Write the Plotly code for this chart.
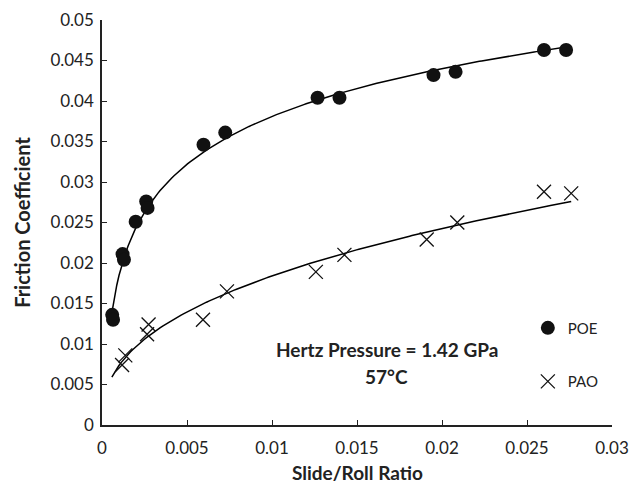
import numpy as np
import plotly.graph_objects as go

# POE data (Slide/Roll ratio, friction coefficient)
poe_x = [0.0006, 0.00065, 0.00121, 0.00129, 0.00198, 0.0026, 0.00268, 0.00597, 0.00725,
         0.01268, 0.01397, 0.0195, 0.0208, 0.0260, 0.0273]
poe_y = [0.0136, 0.0130, 0.0211, 0.0204, 0.0251, 0.0276, 0.0268, 0.0346, 0.0361,
         0.0404, 0.0404, 0.0432, 0.0436, 0.0463, 0.0463]

# PAO data
pao_x = [0.00118, 0.00137, 0.00265, 0.00274, 0.00594, 0.00735, 0.01258, 0.01426,
         0.0191, 0.0209, 0.0260, 0.0276]
pao_y = [0.0074, 0.0086, 0.0112, 0.0124, 0.0130, 0.0165, 0.0189, 0.0210,
         0.0229, 0.0250, 0.0288, 0.0286]

x_ticks = [0, 0.005, 0.01, 0.015, 0.02, 0.025, 0.03]
x_tick_labels = ["0", "0.005", "0.01", "0.015", "0.02", "0.025", "0.03"]
y_ticks = [0, 0.005, 0.01, 0.015, 0.02, 0.025, 0.03, 0.035, 0.04, 0.045, 0.05]
y_tick_labels = ["0", "0.005", "0.01", "0.015", "0.02", "0.025", "0.03", "0.035", "0.04", "0.045", "0.05"]

# Trendlines: logarithmic for POE, power for PAO (least-squares fits of the data)
px = np.array(poe_x); py = np.array(poe_y)
b_log, a_log = np.polyfit(np.log(px), py, 1)
poe_fx = np.linspace(px.min(), px.max(), 200)
poe_fy = a_log + b_log * np.log(poe_fx)

qx = np.array(pao_x); qy = np.array(pao_y)
b_pow, ln_a = np.polyfit(np.log(qx), np.log(qy), 1)
pao_fx = np.linspace(0.00058, qx.max(), 200)
pao_fy = np.exp(ln_a) * pao_fx ** b_pow

font = "Lato, 'Liberation Sans', sans-serif"
ink = "#222222"

fig = go.Figure()
fig.add_trace(go.Scatter(x=poe_fx, y=poe_fy, mode="lines", line=dict(color="black", width=1.5),
                         showlegend=False, hoverinfo="skip"))
fig.add_trace(go.Scatter(x=pao_fx, y=pao_fy, mode="lines", line=dict(color="black", width=1.5),
                         showlegend=False, hoverinfo="skip"))
fig.add_trace(go.Scatter(x=poe_x, y=poe_y, mode="markers", name="POE",
                         marker=dict(symbol="circle", size=14, color="#111111"),
                         legendgroup="a"))
fig.add_trace(go.Scatter(x=pao_x, y=pao_y, mode="markers", name="PAO",
                         marker=dict(symbol="x-thin", size=14, color="#111111",
                                     line=dict(color="#111111", width=1.3)),
                         legendgroup="b"))

fig.update_layout(
    width=642, height=484,
    margin=dict(l=102, r=30, t=20, b=59),
    plot_bgcolor="white", paper_bgcolor="white",
    font=dict(family=font, color=ink, size=17),
    legend=dict(x=0.835, y=0.28, xanchor="left", yanchor="top",
                font=dict(size=15, color=ink), tracegroupgap=31,
                traceorder="grouped", bgcolor="rgba(0,0,0,0)", itemwidth=30),
    xaxis=dict(range=[0, 0.03], tickvals=x_ticks, ticktext=x_tick_labels,
               showgrid=False, zeroline=False, showline=True, linecolor=ink, linewidth=1.5,
               ticks="inside", ticklen=5, tickcolor=ink, tickwidth=1.2,
               tickfont=dict(size=17), ticklabelstandoff=7, automargin=False),
    yaxis=dict(range=[0, 0.05], tickvals=y_ticks, ticktext=y_tick_labels,
               showgrid=False, zeroline=False, showline=True, linecolor=ink, linewidth=1.5,
               ticks="inside", ticklen=5, tickcolor=ink, tickwidth=1.2,
               tickfont=dict(size=17), ticklabelstandoff=3, automargin=False,
               title=dict(text="<b>Friction Coefficient</b>", font=dict(size=20), standoff=14)),
    annotations=[
        dict(text="<b>Slide/Roll Ratio</b>", x=0.5, y=-0.118, xref="paper", yref="paper",
             xanchor="center", yanchor="middle", showarrow=False,
             font=dict(size=19, color=ink)),
        dict(text="<b>Hertz Pressure = 1.42 GPa</b>", x=0.558, y=0.153, xref="paper", yref="paper",
             showarrow=False, font=dict(size=19, color=ink)),
        dict(text="<b>57°C</b>", x=0.558, y=0.086, xref="paper", yref="paper",
             showarrow=False, font=dict(size=19, color=ink)),
    ],
)

fig.write_html("out.html")
